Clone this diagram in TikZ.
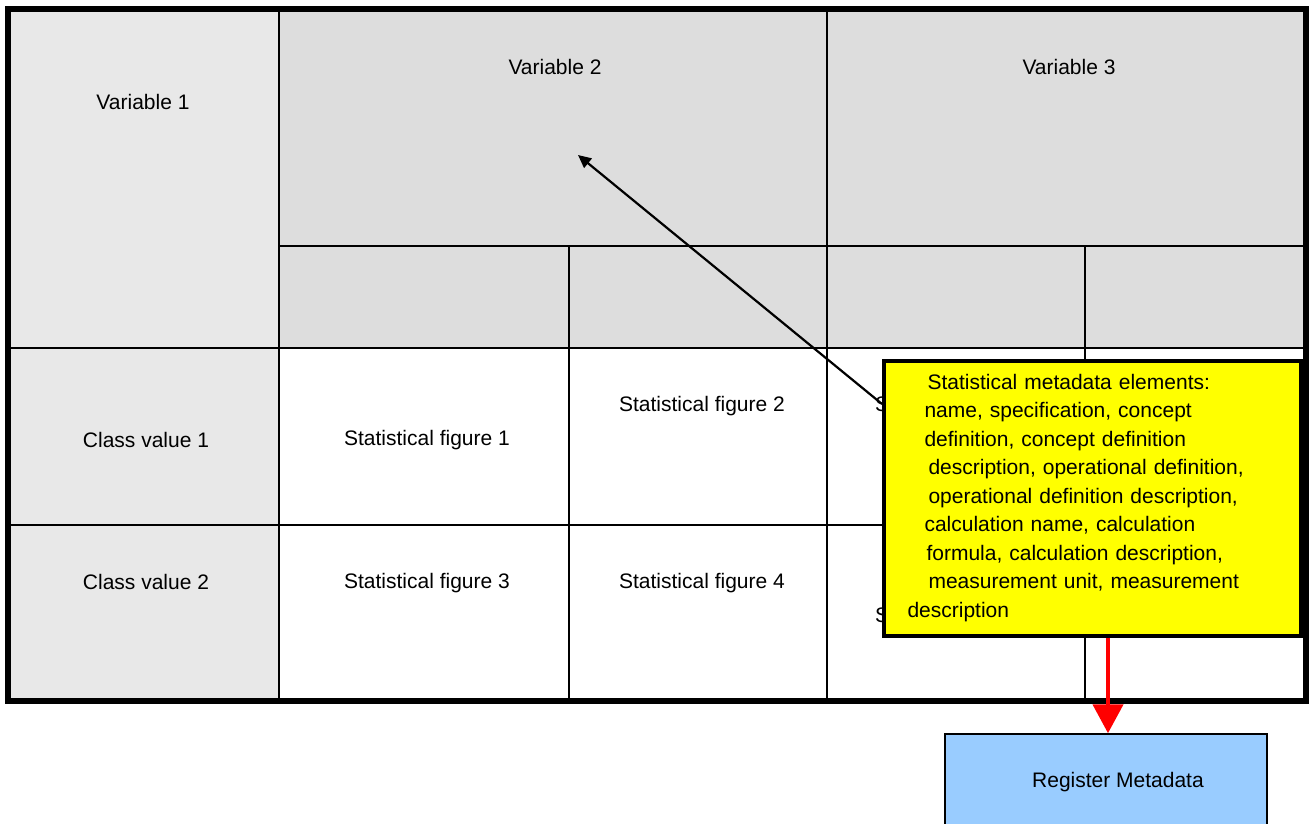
\documentclass[tikz,border=0pt]{standalone}
\usepackage{fontspec}
\setmainfont{Liberation Sans}
\usetikzlibrary{arrows.meta}
\definecolor{stubgray}{HTML}{E8E8E8}
\definecolor{headgray}{HTML}{DDDDDD}
\definecolor{regblue}{HTML}{99CCFF}
\definecolor{noteyellow}{HTML}{FFFF00}
\begin{document}
\begin{tikzpicture}[x=1pt,y=-1pt,
  txt/.style={font=\fontsize{21}{25}\selectfont, inner sep=0pt},
  gridline/.style={line width=2.7pt},
  frame/.style={line width=6pt},
  pointer/.style={line width=2.2pt, -{Triangle[width=12pt,length=13pt]}},
  flow/.style={red, line width=4.5pt, -{Triangle[width=30pt,length=29pt]}},
]
\useasboundingbox (0,0) rectangle (1310,823);

% cell backgrounds of the table
\fill[stubgray] (8,9) rectangle (279,701);
\fill[headgray] (279,9) rectangle (1306,348);

% grid lines
\draw[gridline] (279,9) -- (279,701);
\draw[gridline] (569,246) -- (569,701);
\draw[gridline] (827,9) -- (827,701);
\draw[gridline] (1085,246) -- (1085,701);
\draw[gridline] (279,246) -- (1306,246);
\draw[gridline] (8,348) -- (1306,348);
\draw[gridline] (8,525) -- (1306,525);
\draw[frame] (8,9) rectangle (1306,701);

% headings and stub
\node[txt] (v1) at (143,102) {Variable 1};
\node[txt] (v2) at (555,67) {Variable 2};
\node[txt] (v3) at (1069,67) {Variable 3};
\node[txt] (c1) at (146,440) {Class value 1};
\node[txt] (c2) at (146,582) {Class value 2};

% statistical figures
\node[txt] (f1) at (427,440) {Statistical figure 1};
\node[txt] (f2) at (702,406) {Statistical figure 2};
\node[txt] (f3) at (427,583) {Statistical figure 3};
\node[txt] (f4) at (702,583) {Statistical figure 4};
\node[txt] (f5) at (958,406) {Statistical figure 5};
\node[txt] (f6) at (958,617) {Statistical figure 6};

% metadata note
\node[draw, line width=4pt, fill=noteyellow, minimum width=417pt, minimum height=275pt,
      inner sep=0pt, text width=370pt, align=left,
      font=\fontsize{21}{28.5}\selectfont] (meta) at (1092.5,498) {%
\hspace*{20pt}Statistical metadata elements:\\
\hspace*{17pt}name, specification, concept\\
\hspace*{17pt}definition, concept definition\\
\hspace*{21pt}description, operational definition,\\
\hspace*{21pt}operational definition description,\\
\hspace*{17pt}calculation name, calculation\\
\hspace*{19pt}formula, calculation description,\\
\hspace*{21pt}measurement unit, measurement\\
description};

% register box
\node[draw, line width=1.5pt, fill=regblue, minimum width=322pt, minimum height=96pt,
      inner sep=0pt, font=\fontsize{21}{25}\selectfont] (reg) at (1106,782)
      {\hspace*{24pt}Register Metadata};

% connectors
\coordinate (tip) at (578,155);
\coordinate (rx) at (1108,0);
\draw[pointer] ([yshift=94pt]meta.west) -- (tip);
\draw[flow] (meta.south -| rx) -- (reg.north -| rx);
\end{tikzpicture}
\end{document}
